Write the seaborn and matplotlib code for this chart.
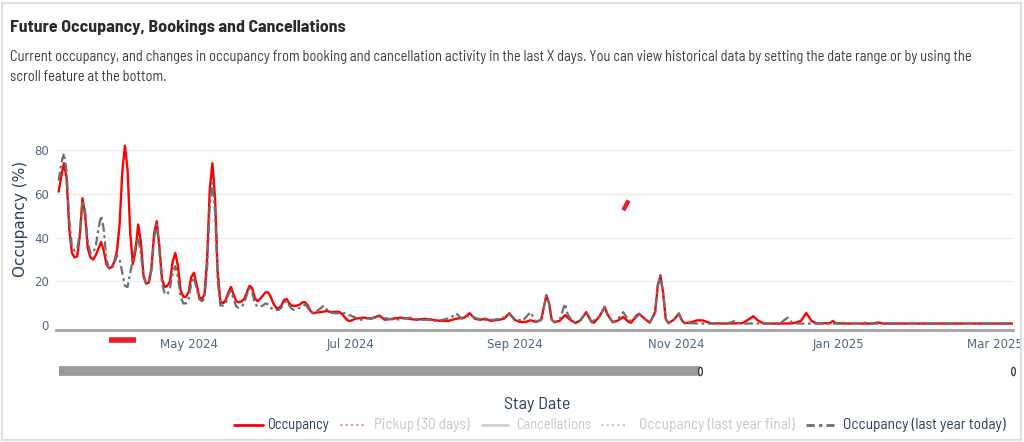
import matplotlib
matplotlib.use("Agg")
import matplotlib.pyplot as plt
import matplotlib.dates as mdates
import seaborn as sns
import pandas as pd
from matplotlib.lines import Line2D
from matplotlib.patches import Rectangle
from matplotlib.path import Path
from matplotlib.transforms import Affine2D
from matplotlib import font_manager as fm

# ---------------- data ----------------
occ_dates = [
    "2024-03-13", "2024-03-14", "2024-03-15", "2024-03-16", "2024-03-17", "2024-03-18", "2024-03-19",
    "2024-03-20", "2024-03-21", "2024-03-22", "2024-03-23", "2024-03-24", "2024-03-25", "2024-03-26",
    "2024-03-27", "2024-03-28", "2024-03-29", "2024-03-30", "2024-03-31", "2024-04-01", "2024-04-02",
    "2024-04-03", "2024-04-04", "2024-04-05", "2024-04-06", "2024-04-07", "2024-04-08", "2024-04-09",
    "2024-04-10", "2024-04-11", "2024-04-12", "2024-04-13", "2024-04-14", "2024-04-15", "2024-04-16",
    "2024-04-17", "2024-04-18", "2024-04-19", "2024-04-20", "2024-04-21", "2024-04-22", "2024-04-23",
    "2024-04-24", "2024-04-25", "2024-04-26", "2024-04-27", "2024-04-28", "2024-04-29", "2024-04-30",
    "2024-05-01", "2024-05-02", "2024-05-03", "2024-05-04", "2024-05-05", "2024-05-06", "2024-05-07",
    "2024-05-08", "2024-05-09", "2024-05-10", "2024-05-11", "2024-05-12", "2024-05-13", "2024-05-14",
    "2024-05-15", "2024-05-16", "2024-05-17", "2024-05-18", "2024-05-19", "2024-05-20", "2024-05-21",
    "2024-05-22", "2024-05-23", "2024-05-24", "2024-05-25", "2024-05-26", "2024-05-27", "2024-05-28",
    "2024-05-29", "2024-05-30", "2024-05-31", "2024-06-01", "2024-06-02", "2024-06-03", "2024-06-04",
    "2024-06-05", "2024-06-06", "2024-06-07", "2024-06-08", "2024-06-09", "2024-06-10", "2024-06-11",
    "2024-06-12", "2024-06-13", "2024-06-14", "2024-06-15", "2024-06-16", "2024-06-17", "2024-06-18",
    "2024-06-20", "2024-06-22", "2024-06-24", "2024-06-26", "2024-06-27", "2024-06-28", "2024-06-29",
    "2024-06-30", "2024-07-01", "2024-07-03", "2024-07-06", "2024-07-09", "2024-07-12", "2024-07-14",
    "2024-07-17", "2024-07-20", "2024-07-23", "2024-07-26", "2024-07-29", "2024-08-01", "2024-08-04",
    "2024-08-07", "2024-08-10", "2024-08-13", "2024-08-15", "2024-08-17", "2024-08-19", "2024-08-21",
    "2024-08-23", "2024-08-26", "2024-08-28", "2024-08-30", "2024-09-01", "2024-09-03", "2024-09-05",
    "2024-09-07", "2024-09-09", "2024-09-11", "2024-09-12", "2024-09-13", "2024-09-14", "2024-09-15",
    "2024-09-16", "2024-09-18", "2024-09-20", "2024-09-22", "2024-09-24", "2024-09-26", "2024-09-28",
    "2024-09-30", "2024-10-01", "2024-10-03", "2024-10-05", "2024-10-06", "2024-10-08", "2024-10-10",
    "2024-10-12", "2024-10-14", "2024-10-15", "2024-10-17", "2024-10-18", "2024-10-20", "2024-10-22",
    "2024-10-24", "2024-10-25", "2024-10-26", "2024-10-27", "2024-10-28", "2024-10-29", "2024-10-31",
    "2024-11-02", "2024-11-03", "2024-11-04", "2024-11-06", "2024-11-09", "2024-11-11", "2024-11-14",
    "2024-11-20", "2024-11-26", "2024-11-28", "2024-11-30", "2024-12-02", "2024-12-04", "2024-12-10",
    "2024-12-15", "2024-12-18", "2024-12-20", "2024-12-22", "2024-12-24", "2024-12-29", "2024-12-30",
    "2024-12-31", "2025-01-04", "2025-01-14", "2025-01-16", "2025-01-18", "2025-02-10", "2025-03-08",
]
occ_values = [
    61, 68, 74, 67, 44, 33, 31,
    31.5, 41, 58, 50, 35, 31, 30,
    32, 35, 38, 34, 28, 26, 26.5,
    29, 34, 46, 70, 82, 71, 42,
    28, 34, 46, 38, 23, 19, 19.5,
    26, 42, 47.5, 36, 21, 17.5, 18,
    20, 29, 33, 27, 16, 13, 13,
    15, 22, 24, 19, 13, 12, 14,
    30, 62, 74, 58, 24, 11, 10,
    11.5, 15, 17.5, 14, 11, 10.5, 11,
    12, 15, 18, 17, 12.5, 11, 12,
    13.5, 15, 15, 13, 10, 8, 7.8,
    9, 11.5, 12, 10, 9, 8.8, 9,
    9.5, 10.5, 10.5, 9, 6.5, 5.5, 5.8,
    6, 6.5, 6, 6.2, 6, 5, 3.5,
    2.2, 2, 3, 3.5, 3, 4.5, 2.5,
    3, 3.5, 3, 2.5, 3, 2.5, 2,
    2, 3, 3.5, 5.5, 3, 2.5, 3,
    2, 2.5, 3, 5.5, 2.5, 1.5, 1.5,
    2.3, 1.5, 2.5, 8, 13.7, 10, 2.5,
    1.4, 2, 4.6, 2.5, 1, 2.5, 6,
    1.5, 1.2, 4, 8.4, 5, 1.4, 2.2,
    3.8, 1.5, 1.2, 4.5, 5.3, 3, 1.2,
    6, 18, 22.4, 15, 3, 1, 2.5,
    5.3, 2.5, 1, 1.2, 2.3, 2.2, 0.9,
    0.8, 1, 2.5, 4.1, 2, 0.8, 0.8,
    0.9, 2, 5.6, 2, 0.8, 1, 2,
    1, 0.8, 0.8, 1.3, 0.8, 0.8, 0.8,
]

ly_dates = [
    "2024-03-13", "2024-03-14", "2024-03-15", "2024-03-16", "2024-03-17", "2024-03-18", "2024-03-19",
    "2024-03-20", "2024-03-21", "2024-03-22", "2024-03-23", "2024-03-24", "2024-03-25", "2024-03-26",
    "2024-03-27", "2024-03-28", "2024-03-29", "2024-03-30", "2024-03-31", "2024-04-01", "2024-04-02",
    "2024-04-03", "2024-04-04", "2024-04-05", "2024-04-06", "2024-04-07", "2024-04-08", "2024-04-09",
    "2024-04-10", "2024-04-11", "2024-04-12", "2024-04-13", "2024-04-14", "2024-04-15", "2024-04-16",
    "2024-04-17", "2024-04-18", "2024-04-19", "2024-04-20", "2024-04-21", "2024-04-22", "2024-04-23",
    "2024-04-24", "2024-04-25", "2024-04-26", "2024-04-27", "2024-04-28", "2024-04-29", "2024-04-30",
    "2024-05-01", "2024-05-02", "2024-05-03", "2024-05-04", "2024-05-05", "2024-05-06", "2024-05-07",
    "2024-05-08", "2024-05-09", "2024-05-10", "2024-05-11", "2024-05-12", "2024-05-13", "2024-05-14",
    "2024-05-15", "2024-05-16", "2024-05-17", "2024-05-18", "2024-05-19", "2024-05-20", "2024-05-21",
    "2024-05-22", "2024-05-23", "2024-05-24", "2024-05-25", "2024-05-26", "2024-05-27", "2024-05-28",
    "2024-05-29", "2024-05-30", "2024-05-31", "2024-06-01", "2024-06-02", "2024-06-03", "2024-06-04",
    "2024-06-05", "2024-06-06", "2024-06-07", "2024-06-08", "2024-06-09", "2024-06-10", "2024-06-11",
    "2024-06-12", "2024-06-13", "2024-06-14", "2024-06-15", "2024-06-16", "2024-06-17", "2024-06-19",
    "2024-06-21", "2024-06-23", "2024-06-25", "2024-06-27", "2024-06-29", "2024-07-01", "2024-07-03",
    "2024-07-05", "2024-07-07", "2024-07-10", "2024-07-12", "2024-07-15", "2024-07-18", "2024-07-21",
    "2024-07-24", "2024-07-27", "2024-07-30", "2024-08-02", "2024-08-05", "2024-08-08", "2024-08-10",
    "2024-08-12", "2024-08-15", "2024-08-18", "2024-08-21", "2024-08-24", "2024-08-27", "2024-08-30",
    "2024-09-01", "2024-09-04", "2024-09-07", "2024-09-09", "2024-09-11", "2024-09-12", "2024-09-13",
    "2024-09-14", "2024-09-15", "2024-09-16", "2024-09-18", "2024-09-20", "2024-09-21", "2024-09-23",
    "2024-09-25", "2024-09-28", "2024-09-30", "2024-10-03", "2024-10-05", "2024-10-06", "2024-10-08",
    "2024-10-10", "2024-10-12", "2024-10-14", "2024-10-16", "2024-10-18", "2024-10-20", "2024-10-22",
    "2024-10-24", "2024-10-25", "2024-10-26", "2024-10-27", "2024-10-28", "2024-10-29", "2024-10-31",
    "2024-11-02", "2024-11-03", "2024-11-04", "2024-11-10", "2024-11-20", "2024-11-23", "2024-11-25",
    "2024-12-10", "2024-12-13", "2024-12-15", "2025-01-09", "2025-01-11", "2025-01-13", "2025-02-10",
    "2025-03-08",
]
ly_values = [
    66, 74, 78.5, 70, 48, 36, 34,
    35, 42, 57, 52, 38, 33, 33,
    36, 44, 50, 44, 30, 26, 26,
    28, 32, 30, 24, 18, 17.5, 24,
    30, 36, 40, 33, 22, 19, 19.5,
    25, 40, 46, 34, 19, 14.5, 14,
    17, 24, 27, 22, 13, 10, 10,
    12, 19, 22, 17, 12, 11, 12,
    26, 55, 65, 52, 20, 9, 9,
    10, 14, 16, 12, 8.5, 8, 8.5,
    10, 14, 17, 15, 10, 8.5, 8.5,
    9, 10, 9.5, 8, 7, 7, 7,
    8, 10.5, 11, 9, 7.5, 7, 7.5,
    8, 8.5, 9.5, 8, 6, 5.5, 7,
    9, 6, 5.5, 5.5, 5.5, 4.5, 3.5,
    2.5, 3, 3.5, 4, 3, 2.5, 3,
    3.5, 2.5, 2.5, 2, 2.5, 3.5, 5.5,
    3, 4.5, 3, 2.5, 2.5, 3, 5,
    3, 2, 6, 1.5, 2.5, 8, 13.7,
    10, 2.5, 1.4, 2.5, 9.9, 5, 1.5,
    1, 6, 1.5, 4, 8.4, 5, 1.4,
    3, 6, 2, 2.5, 5, 3, 1.2,
    6, 18.5, 23, 15, 3, 1, 2.5,
    5.5, 2.5, 1, 0.8, 0.8, 1.9, 0.8,
    0.8, 3.5, 0.8, 0.8, 1.2, 0.8, 0.8,
    0.8,
]

# small stray marks visible in the reference
stray_slash_dates = ["2024-10-12", "2024-10-14"]
stray_slash_values = [52.5, 57]
stray_bar_dates = ["2024-04-01", "2024-04-11"]
stray_bar_values = [-6.9, -6.9]

# range slider
slider_dates = ["2024-03-13", "2024-11-10"]
slider_handle_dates = ["2024-11-10", "2025-03-08"]

x_range = ["2024-03-12", "2025-03-08"]
y_ticks = [0, 20, 40, 60, 80]

title = "Future Occupancy, Bookings and Cancellations"
subtitle_1 = ("Current occupancy, and changes in occupancy from booking and cancellation activity in the last X days. "
              "You can view historical data by setting the date range or by using the")
subtitle_2 = "scroll feature at the bottom."
legend_labels = ["Occupancy", "Pickup (30 days)", "Cancellations",
                 "Occupancy (last year final)", "Occupancy (last year today)"]

# ---------------- style ----------------
sns.set_style("white")
names = {f.name for f in fm.fontManager.ttflist}
COND = "Roboto"
for cand in ["Barlow Semi Condensed", "Asap Condensed", "Archivo Narrow", "Barlow Condensed"]:
    if cand in names:
        COND = cand
        break
plt.rcParams["font.family"] = ["DejaVu Sans"]

W, H = 1024, 442
fig = plt.figure(figsize=(W / 100, H / 100), dpi=100)
fig.patch.set_facecolor("white")


def fx(x):
    return x / W


def fy(y):
    return 1 - y / H


renderer = fig.canvas.get_renderer()


def fit_width(t, target, rotated=False):
    bb = t.get_window_extent(renderer)
    cur = bb.height if rotated else bb.width
    if cur > 0:
        t.set_fontsize(t.get_fontsize() * target / cur)


# card border
fig.add_artist(Rectangle((fx(2), fy(440)), fx(1021) - fx(2), fy(3) - fy(440),
                         transform=fig.transFigure, fill=False, edgecolor="#dedede", lw=1.5))

# main axes
ax = fig.add_axes([fx(56), fy(330), fx(1013) - fx(56), fy(115) - fy(330)])
df_occ = pd.DataFrame({"date": pd.to_datetime(occ_dates), "value": occ_values})
df_ly = pd.DataFrame({"date": pd.to_datetime(ly_dates), "value": ly_values})

for yv in y_ticks[1:]:
    ax.axhline(yv, color="#ececec", lw=1, zorder=0)

sns.lineplot(data=df_occ, x="date", y="value", ax=ax, color="#ff0000", lw=1.7,
             estimator=None, sort=False, zorder=3)
sns.lineplot(data=df_ly, x="date", y="value", ax=ax, color="#6f6f6f", lw=1.6,
             estimator=None, sort=False, zorder=4, linestyle=(0, (4, 1.6, 1.2, 1.6)))

ax.plot(pd.to_datetime(stray_slash_dates), stray_slash_values, color="#e8202a", lw=3.2,
        solid_capstyle="butt", zorder=5)
ax.plot(pd.to_datetime(stray_bar_dates), stray_bar_values, color="#e8202a", lw=4.0,
        solid_capstyle="butt", clip_on=False, zorder=5)

ax.set_xlim(pd.Timestamp(x_range[0]), pd.Timestamp(x_range[1]))
ax.set_ylim(-2.15, 96)
ax.set_yticks(y_ticks)
ax.xaxis.set_major_locator(mdates.MonthLocator(bymonth=[1, 3, 5, 7, 9, 11]))
ax.xaxis.set_major_formatter(mdates.DateFormatter("%b %Y"))
ax.tick_params(axis="both", length=0, labelsize=8.5, labelcolor="#506784")
ax.tick_params(axis="x", pad=5.5)
ax.tick_params(axis="y", pad=5)
ax.set_xlabel("")
ax.set_ylabel("")
for s in ["top", "left", "right"]:
    ax.spines[s].set_visible(False)
ax.spines["bottom"].set_color("#a3a3a3")
ax.spines["bottom"].set_linewidth(2)
ax.set_facecolor("white")

# range slider
axs = fig.add_axes([fx(56), fy(380), fx(1013) - fx(56), fy(362) - fy(380)])
axs.set_xlim(pd.Timestamp(x_range[0]), pd.Timestamp(x_range[1]))
axs.set_ylim(-1, 1)
axs.plot(pd.to_datetime(slider_dates), [0, 0], color="#999999", lw=7.0, solid_capstyle="butt")
ell = Path.unit_circle().transformed(Affine2D().scale(0.45, 1.0))
axs.plot(pd.to_datetime(slider_handle_dates), [0, 0], linestyle="none", marker=ell, markersize=6,
         markerfacecolor="white", markeredgecolor="#333333", markeredgewidth=0.9, clip_on=False)
axs.axis("off")

# texts
t_title = fig.text(fx(10), fy(27), title, fontsize=12, fontweight="bold", color="#2b2b2b",
                   family=COND, va="center", ha="left")
fit_width(t_title, 336)
t_s1 = fig.text(fx(10), fy(57), subtitle_1, fontsize=10, color="#3c3c3c", family=COND,
                va="center", ha="left")
fit_width(t_s1, 964)
t_s2 = fig.text(fx(10), fy(77), subtitle_2, fontsize=t_s1.get_fontsize(), color="#3c3c3c",
                family=COND, va="center", ha="left")

t_yl = fig.text(fx(21), fy(219), "Occupancy (%)", rotation=90, fontsize=10, color="#2a3f5f",
                va="center", ha="center")
fit_width(t_yl, 116, rotated=True)
t_xl = fig.text(fx(537), fy(404), "Stay Date", fontsize=11, color="#2a3f5f", family=COND,
                va="center", ha="center")
fit_width(t_xl, 66)

# legend (plotly style, hidden traces faded)
swatches = [(234, 263), (340, 366), (482, 508), (601, 628), (806, 834)]
text_spans = [(267, 329), (374, 470), (516, 591), (639, 795), (843, 1006)]
styles = [
    dict(color="#ff0000", lw=2.0, linestyle="-"),
    dict(color="#ff9d9d", lw=1.6, linestyle=(0, (1.2, 1.2))),
    dict(color="#d0d0d0", lw=2.0, linestyle="-"),
    dict(color="#cfcfcf", lw=1.6, linestyle=(0, (1.2, 1.2))),
    dict(color="#6f6f6f", lw=2.0, linestyle=(0, (3, 1.5, 1.2, 1.5))),
]
text_colors = ["#2a3f5f", "#c2c8d0", "#c2c8d0", "#c2c8d0", "#2a3f5f"]
ly = fy(425)
for (x0, x1), (t0, t1), st, lab, tc in zip(swatches, text_spans, styles, legend_labels, text_colors):
    fig.add_artist(Line2D([fx(x0), fx(x1)], [ly, ly], transform=fig.transFigure, **st))
    t = fig.text(fx(t0), ly, lab, fontsize=10, color=tc, family=COND, va="center", ha="left")
    fit_width(t, t1 - t0)

fig.savefig("out.png", dpi=100, facecolor="white")
